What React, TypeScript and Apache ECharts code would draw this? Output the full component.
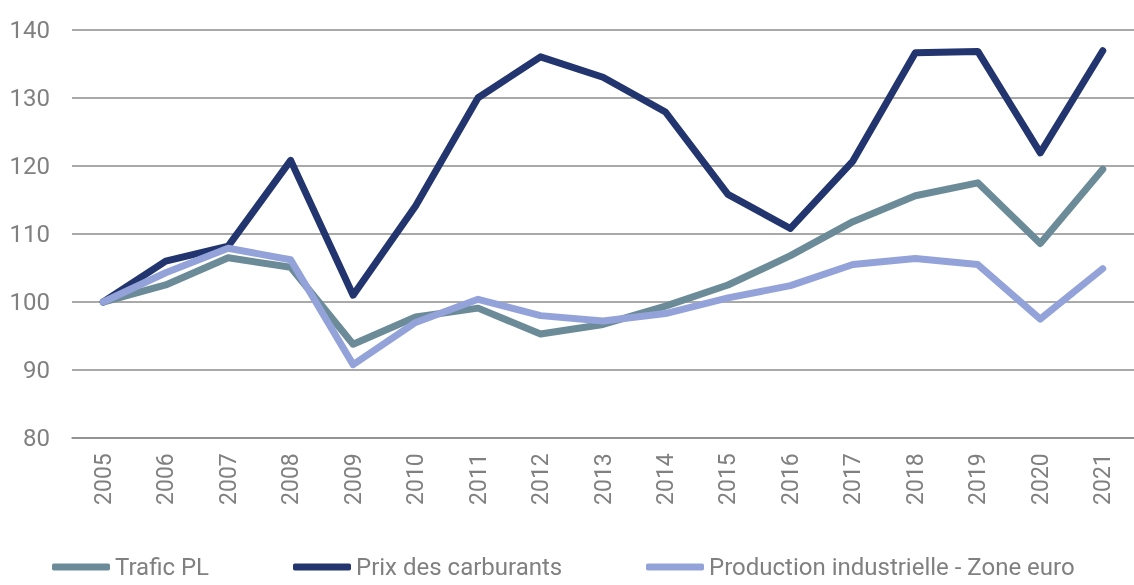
import React, { useEffect, useRef } from "react";
import * as echarts from "echarts";

const years = ["2005", "2006", "2007", "2008", "2009", "2010", "2011", "2012", "2013", "2014", "2015", "2016", "2017", "2018", "2019", "2020", "2021"];
const traficPL = [100, 102.5, 106.5, 105.1, 93.8, 97.8, 99.1, 95.3, 96.7, 99.4, 102.5, 106.8, 111.8, 115.6, 117.5, 108.6, 119.5];
const prixCarburants = [100, 106.0, 108.2, 120.8, 101.0, 114.1, 130.0, 136.0, 133.0, 127.9, 115.8, 110.8, 120.7, 136.6, 136.8, 121.9, 136.9];
const productionIndustrielle = [100, 104.3, 107.9, 106.2, 90.8, 97.0, 100.4, 98.0, 97.2, 98.3, 100.6, 102.4, 105.5, 106.4, 105.5, 97.5, 104.9];
const seriesNames = ["Trafic PL", "Prix des carburants", "Production industrielle - Zone euro"];
const seriesColors = ["#6C8B99", "#23356E", "#93A3DA"];
const yTicks = { min: 80, max: 140, interval: 10 };

export default function App() {
  const ref = useRef<HTMLDivElement>(null);
  useEffect(() => {
    if (!ref.current) return;
    const chart = echarts.init(ref.current, undefined, { renderer: "svg" });
    const dataSets = [traficPL, prixCarburants, productionIndustrielle];
    const legendLefts = [52, 293, 646];
    const textColor = "#808080";
    chart.setOption({
      animation: false,
      grid: { left: 72, right: -15, top: 29.6, bottom: 146.8, containLabel: false },
      legend: seriesNames.map((name, i) => ({
        data: [{ name, icon: "roundRect" }],
        left: legendLefts[i],
        top: 554,
        padding: 0,
        itemWidth: 58,
        itemHeight: 7,
        itemGap: 0,
        selectedMode: false,
        textStyle: { fontFamily: "Roboto", fontSize: 24, color: textColor, lineHeight: 26 },
      })),
      xAxis: {
        type: "category",
        data: years,
        boundaryGap: true,
        axisLine: { show: true, lineStyle: { color: "#8c8c8c", width: 1.5 } },
        axisTick: { show: false },
        axisLabel: { rotate: 90, margin: 15, fontFamily: "Roboto", fontSize: 23, color: textColor, interval: 0 },
      },
      yAxis: {
        type: "value",
        min: yTicks.min,
        max: yTicks.max,
        interval: yTicks.interval,
        axisLine: { show: false },
        axisTick: { show: false },
        axisLabel: { margin: 22, fontFamily: "Roboto", fontSize: 24, color: textColor },
        splitLine: { lineStyle: { color: "#8c8c8c", width: 1.5 } },
      },
      series: seriesNames.map((name, i) => ({
        name,
        type: "line",
        data: dataSets[i],
        color: seriesColors[i],
        symbol: "none",
        lineStyle: { width: 7, color: seriesColors[i], cap: "round", join: "round" },
        itemStyle: { color: seriesColors[i] },
      })),
    });
    return () => chart.dispose();
  }, []);
  return <div ref={ref} style={{ position: "fixed", left: 0, top: 0, width: 1134, height: 585 }} />;
}
